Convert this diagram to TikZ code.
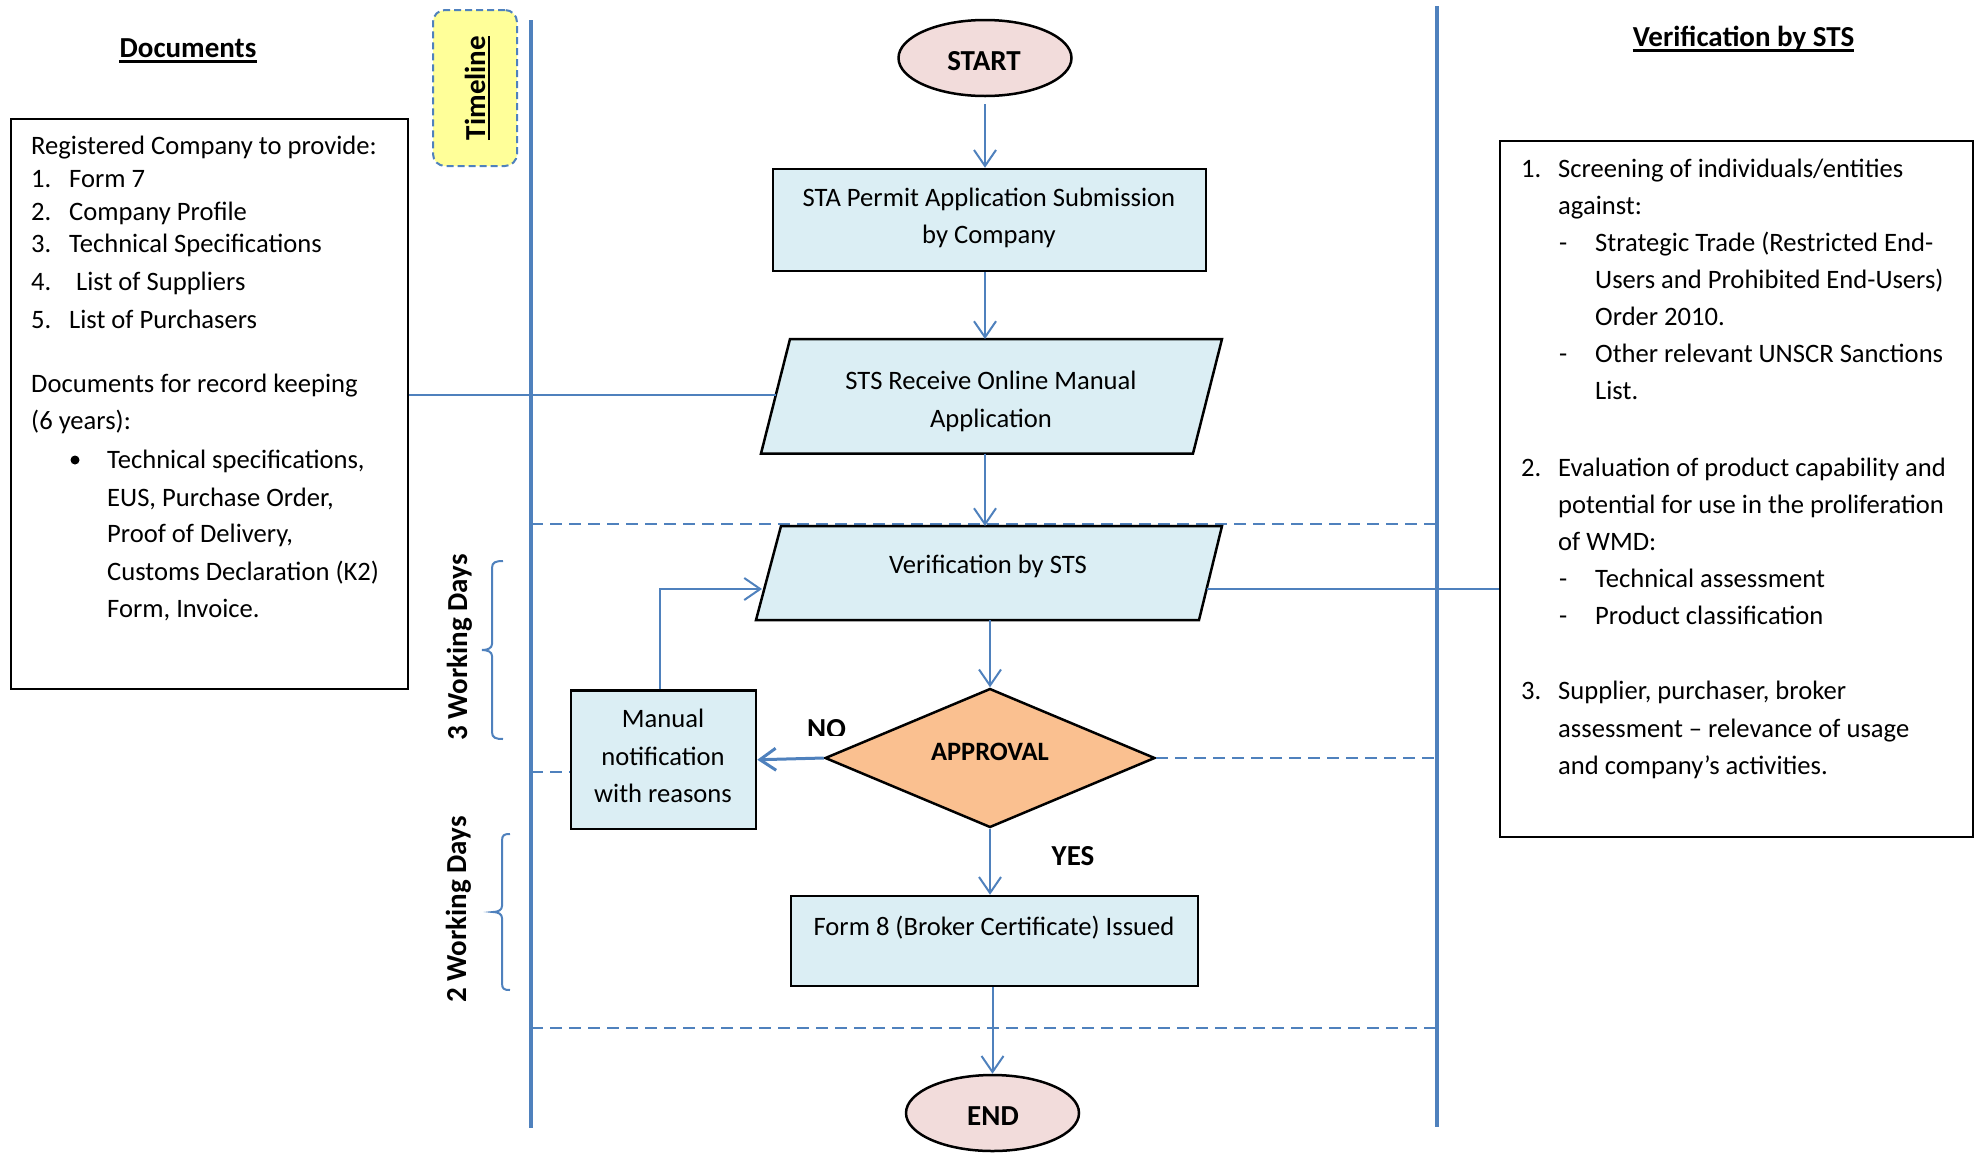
\documentclass[tikz,border=0pt]{standalone}
\usepackage{fontspec}
\setmainfont{Carlito}
\usetikzlibrary{arrows.meta,shapes.geometric}
\definecolor{lblue}{HTML}{4F81BD}
\definecolor{boxfill}{HTML}{DBEEF4}
\definecolor{ellfill}{HTML}{F2DCDB}
\definecolor{diafill}{HTML}{FAC090}
\definecolor{tlfill}{HTML}{FFFF99}
\tikzset{
  txt/.style={inner sep=0pt, font=\fontsize{26.6}{37}\selectfont},
  tl/.style={txt, anchor=base west},
  tc/.style={txt, anchor=base},
  tb/.style={inner sep=0pt, anchor=base, font=\bfseries\fontsize{29}{29}\selectfont},
  fbox/.style={draw=black, line width=2.5pt, fill=boxfill, inner sep=0pt},
  oval/.style={ellipse, draw=black, line width=2.5pt, fill=ellfill, inner sep=0pt, minimum width=173pt, minimum height=76pt},
  bline/.style={draw=lblue, line width=2pt},
  vline/.style={draw=lblue, line width=3.5pt},
  dline/.style={draw=lblue, line width=2pt, dash pattern=on 12pt off 7pt},
  arr/.style={bline, -{Straight Barb[length=16pt,width=22pt]}},
  brace/.style={draw=lblue, line width=2pt},
  uline/.style={draw=black, line width=2.5pt},
  sidebox/.style={draw=black, line width=2pt, inner sep=0pt, anchor=north west},
}
\begin{document}
\begin{tikzpicture}[x=1pt,y=-1pt]
\useasboundingbox (0,0) rectangle (1975,1152);

% lane coordinates
\coordinate (tlTop) at (531,20);
\coordinate (tlBot) at (531,1128);
\coordinate (rtTop) at (1437,6);
\coordinate (rtBot) at (1437,1127);
\coordinate (s1L) at (531,524);
\coordinate (s2L) at (531,1028);
\coordinate (mL) at (531,772);

% dashed separators
\draw[dline] (s1L) -- (s1L -| rtTop);
\draw[dline] (s2L) -- (s2L -| rtTop);

% vertical lane lines
\draw[vline] (tlTop) -- (tlBot);
\draw[vline] (rtTop) -- (rtBot);

% titles
\node[tb] (docT) at (188,57.3) {Documents};
\draw[uline] ([yshift=-4.4pt]docT.base west) -- ([yshift=-4.4pt]docT.base east);
\node[tb] (verTitle) at (1743.5,46.7) {Verification by STS};
\draw[uline] ([yshift=-3.8pt]verTitle.base west) -- ([yshift=-3.8pt]verTitle.base east);

% side boxes
\node[sidebox, minimum width=397pt, minimum height=570pt] (docs) at (10,118) {};
\node[sidebox, minimum width=473pt, minimum height=696pt] (rbox) at (1499,140) {};

% documents text
\node[tl] (d0) at (31,154) {Registered Company to provide:};
\node[tl] (d1n) at (31,187) {1.};  \node[tl] (d1) at (69,187) {Form 7};
\node[tl] (d2n) at (31,220) {2.};  \node[tl] (d2) at (69,220) {Company Profile};
\node[tl] (d3n) at (31,252) {3.};  \node[tl] (d3) at (69,252) {Technical Specifications};
\node[tl] (d4n) at (31,290) {4.};  \node[tl] (d4) at (76,290) {List of Suppliers};
\node[tl] (d5n) at (31,328) {5.};  \node[tl] (d5) at (69,328) {List of Purchasers};
\node[tl] (d6) at (31,392) {Documents for record keeping};
\node[tl] (d7) at (31,429) {(6 years):};
\fill (75,460) circle[radius=4.5pt];
\node[tl] (d8) at (107,468) {Technical specifications,};
\node[tl] (d9) at (107,506) {EUS, Purchase Order,};
\node[tl] (d10) at (107,542) {Proof of Delivery,};
\node[tl] (d11) at (107,580) {Customs Declaration (K2)};
\node[tl] (d12) at (107,617) {Form, Invoice.};

% verification text
\node[tl] (r1n) at (1521,177) {1.}; \node[tl] (r1t) at (1558,177) {Screening of individuals/entities};
\node[tl] (r2t) at (1558,214) {against:};
\node[tl] (r3d) at (1559,251) {-}; \node[tl] (r3t) at (1595,251) {Strategic Trade (Restricted End-};
\node[tl] (r4t) at (1595,288) {Users and Prohibited End-Users)};
\node[tl] (r5t) at (1595,325) {Order 2010.};
\node[tl] (r6d) at (1559,362) {-}; \node[tl] (r6t) at (1595,362) {Other relevant UNSCR Sanctions};
\node[tl] (r7t) at (1595,399) {List.};
\node[tl] (r8n) at (1521,476) {2.}; \node[tl] (r8t) at (1558,476) {Evaluation of product capability and};
\node[tl] (r9t) at (1558,513) {potential for use in the proliferation};
\node[tl] (r10t) at (1558,550) {of WMD:};
\node[tl] (r11d) at (1559,587) {-}; \node[tl] (r11t) at (1595,587) {Technical assessment};
\node[tl] (r12d) at (1559,624) {-}; \node[tl] (r12t) at (1595,624) {Product classification};
\node[tl] (r13n) at (1521,699) {3.}; \node[tl] (r13t) at (1558,699) {Supplier, purchaser, broker};
\node[tl] (r14t) at (1558,737) {assessment – relevance of usage};
\node[tl] (r15t) at (1558,774) {and company’s activities.};

% timeline label box
\node[draw=lblue, dash pattern=on 7pt off 4pt, line width=2pt, fill=tlfill, rounded corners=12pt, minimum width=84pt, minimum height=156pt, inner sep=0pt] (tlbox) at (475,88) {};
\node[tb, rotate=90] (tlT) at (485,88) {Timeline};
\draw[uline] ([xshift=4pt]tlT.base west) -- ([xshift=4pt]tlT.base east);

% START
\node[oval] (start) at (985,58) {};
\node[tb] (startT) at (984,70) {START};

% STA box
\node[fbox, minimum width=433pt, minimum height=102pt] (sta) at (989.5,220) {};
\node[tc] (staT1) at (989,206) {STA Permit Application Submission};
\node[tc] (staT2) at (989,243) {by Company};

% STS receive parallelogram
\coordinate (ra) at (790,339);
\coordinate (rb) at (1222,339);
\coordinate (rc) at (1193,453.5);
\coordinate (rd) at (761,453.5);
\coordinate (rW) at (775.8,395);
\draw[fbox] (ra) -- (rb) -- (rc) -- (rd) -- cycle;
\node[tc] (recvT1) at (991,389.5) {STS Receive Online Manual};
\node[tc] (recvT2) at (991,427) {Application};

% verification parallelogram
\coordinate (va) at (781,526);
\coordinate (vb) at (1222,526);
\coordinate (vc) at (1199,620);
\coordinate (vd) at (756,620);
\coordinate (vW) at (762,589);
\coordinate (vE) at (1207,589);
\draw[fbox] (va) -- (vb) -- (vc) -- (vd) -- cycle;
\node[tc] (verT1) at (988,573) {Verification by STS};

% approval diamond
\node[diamond, draw=black, line width=2.5pt, fill=diafill, minimum width=330pt, minimum height=139pt, inner sep=0pt] (appr) at (990,758) {};
\node[tb, font=\bfseries\fontsize{26.5}{26.5}\selectfont] (apprT) at (990,760) {APPROVAL};

% manual notification
\node[fbox, minimum width=185pt, minimum height=138.5pt] (man) at (663.5,759.75) {};
\node[tc] (manT1) at (663,727) {Manual};
\node[tc] (manT2) at (663,765) {notification};
\node[tc] (manT3) at (663,802) {with reasons};

% Form 8
\node[fbox, minimum width=407pt, minimum height=90pt] (f8) at (994.5,941) {};
\node[tc] (f8T) at (994,935) {Form 8 (Broker Certificate) Issued};

% END
\node[oval] (end) at (992.5,1113) {};
\node[tb] (endT) at (993,1125) {END};

% labels (NO is cut at its foot, as in the source)
\begin{scope}
  \clip (790,700) rectangle (870,735.5);
  \node[tb] (noL) at (826.5,738.7) {NO};
\end{scope}
\node[tb] (yesL) at (1073,865) {YES};

% connectors
\draw[arr, shorten <=7pt] (start.south) -- (start.south |- sta.north);
\draw[arr] (start.south |- sta.south) -- (start.south |- ra);
\draw[arr] (start.south |- rd) -- (start.south |- va);
\draw[arr] (appr.north |- vd) -- (appr.north);
\draw[arr] (appr.south) -- (appr.south |- f8.north);
\draw[arr] (end.north |- f8.south) -- (end.north);
\draw[arr, line width=3pt] (appr.west) -- (man.east);
\draw[arr] ([xshift=-4pt]man.north) |- (vW);
\draw[bline] (docs.east |- rW) -- (rW);
\draw[bline] (vE) -- (vE -| rbox.west);
\draw[dline] (mL) -- (mL -| man.west);
\draw[dline] (appr.east) -- (appr.east -| rtTop);

% braces
\draw[brace] (503,561) .. controls (496,561) and (492,562) .. (492,568) -- (492,644)
  .. controls (492,648) and (488,650) .. (482,650)
  .. controls (488,650) and (492,652) .. (492,656) -- (492,732)
  .. controls (492,738) and (496,739) .. (503,739);
\draw[brace] (510,834) .. controls (504,834) and (502,835) .. (502,841) -- (502,906)
  .. controls (502,910) and (498,912) .. (493,912)
  .. controls (498,912) and (502,914) .. (502,918) -- (502,983)
  .. controls (502,989) and (504,990) .. (510,990);
\node[tb, rotate=90] (wd3) at (467,647.5) {3 Working Days};
\node[tb, rotate=90] (wd2) at (466,909.5) {2 Working Days};
\end{tikzpicture}
\end{document}
